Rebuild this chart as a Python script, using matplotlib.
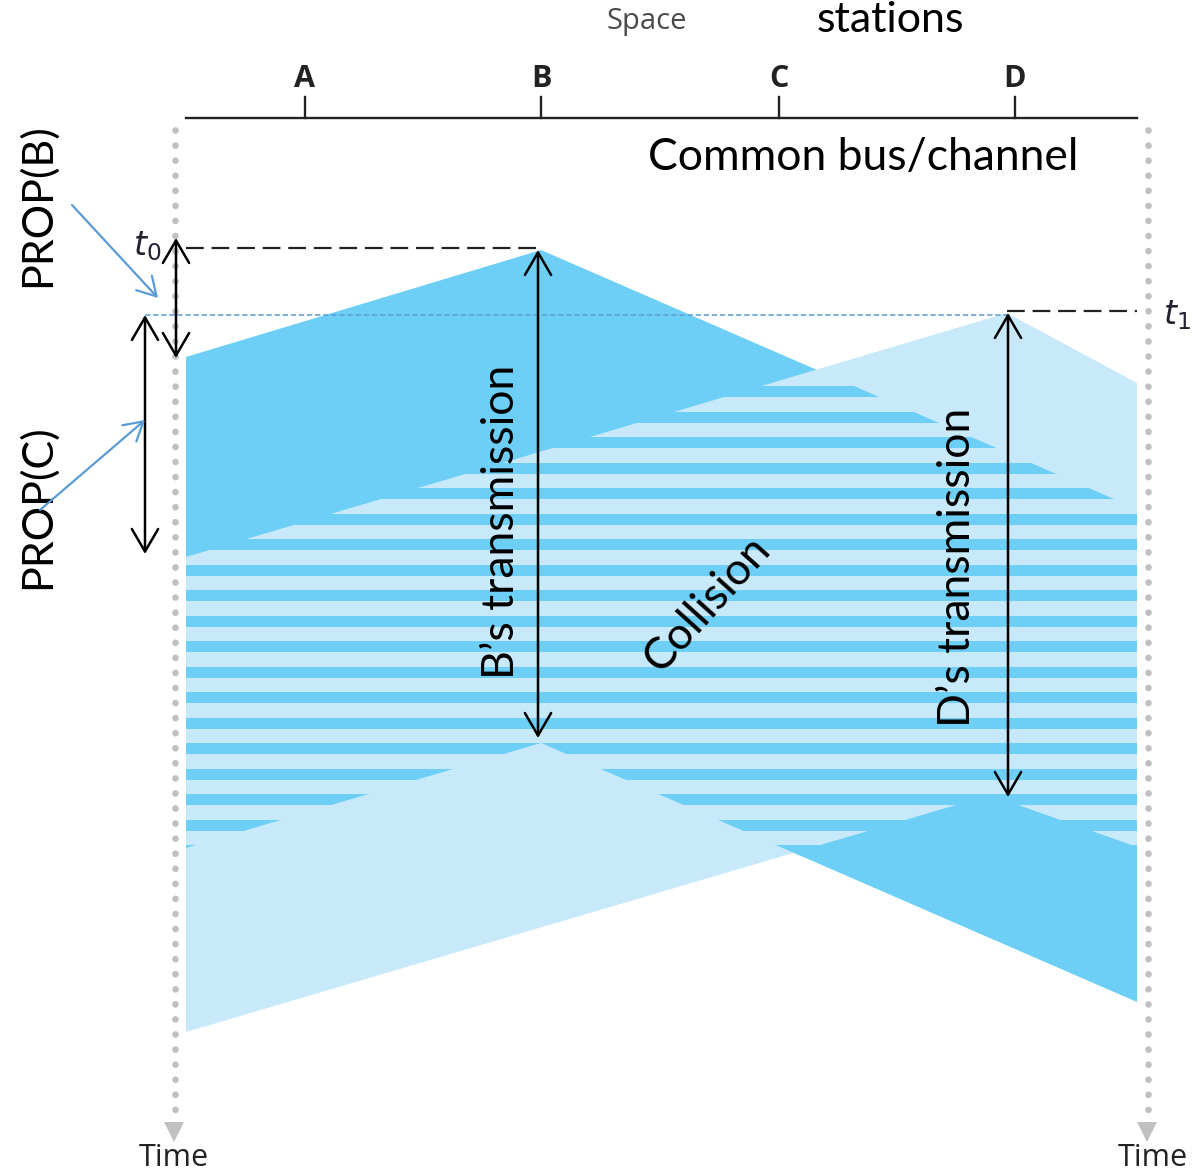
import numpy as np
import matplotlib
matplotlib.use("Agg")
import matplotlib.pyplot as plt
from matplotlib.patches import Polygon, FancyArrowPatch

# stations on the common bus (pixel-space positions)
stations = ["A", "B", "C", "D"]
station_x = [305, 541, 779, 1015]
bus_left, bus_right, bus_y = 186, 1137, 118

# B's transmission: start/end time at B and arrival times at both bus ends
b_x = 541
b_start, b_end = 250, 743
b_reach_left = [357, 848]
b_reach_right = [509, 1002]

# D's transmission
d_x = [1007, 990]
d_start, d_end = 313, 795
d_reach_left = [557, 1032]
d_reach_right = [383, 847]

dark = "#6DCFF6"
light = "#C7E9F9"
blue = "#5B9BD5"
grey = "#C0C0C0"
font = "Lato"

fig = plt.figure(figsize=(11.92, 11.75), dpi=100)
ax = fig.add_axes([0, 0, 1, 1])
ax.set_xlim(0, 1192)
ax.set_ylim(1175, 0)
ax.axis("off")

# signal regions
b_poly = Polygon([(bus_left, b_reach_left[0]), (b_x, b_start), (bus_right, b_reach_right[0]),
                  (bus_right, b_reach_right[1]), (b_x, b_end), (bus_left, b_reach_left[1])],
                 closed=True, facecolor=dark, edgecolor="none", zorder=1)
d_poly = Polygon([(bus_left, d_reach_left[0]), (d_x[0], d_start), (bus_right, d_reach_right[0]),
                  (bus_right, d_reach_right[1]), (d_x[1], d_end), (bus_left, d_reach_left[1])],
                 closed=True, facecolor=light, edgecolor="none", zorder=2)
ax.add_patch(b_poly)
ax.add_patch(d_poly)

# collision stripes: dark bands clipped to B's region, drawn over D's
stripe_y = np.arange(386, 860, 25.5)
bars = ax.barh(stripe_y, bus_right - bus_left, left=bus_left, height=11, align="edge",
               color=dark, edgecolor="none", zorder=3)
for bar in bars:
    bar.set_clip_path(b_poly)

# bus line and station ticks
ax.plot([bus_left, bus_right], [bus_y, bus_y], color="#222222", lw=1.7, zorder=5)
for name, x in zip(stations, station_x):
    ax.plot([x, x], [bus_y - 21, bus_y], color="#222222", lw=1.7, zorder=5)
    ax.text(x, 79, name, ha="center", va="center", fontsize=22, fontweight="bold",
            family="Open Sans", color="#222222")

ax.text(647, 22, "Space", ha="center", va="center", fontsize=21, family="Open Sans", color="#4a4a4a")
ax.text(890, 20, "stations", ha="center", va="center", fontsize=31, family=font, color="black")
ax.text(863, 157, "Common bus/channel", ha="center", va="center", fontsize=32, family=font, color="black")

# dotted time axes
for x, tx in [(175, 174), (1148, 1153)]:
    ax.plot([x, x], [130, 1112], color=grey, lw=4.8, linestyle=(0, (0.01, 2.25)),
            dash_capstyle="round", zorder=0)
    ax.plot([x - 1], [1132], marker="v", markersize=15, color=grey, markeredgewidth=0)
    ax.text(tx, 1158, "Time", ha="center", va="center", fontsize=22, family="Open Sans", color="#222222")

# time markers
ax.plot([bus_left, b_x], [b_start - 2, b_start - 2], color="#222222", lw=1.6, dashes=(8, 3.5), zorder=5)
ax.plot([d_x[0], bus_right], [d_start - 2, d_start - 2], color="#222222", lw=1.6, dashes=(8, 3.5), zorder=5)
ax.plot([145, d_x[0]], [d_start + 2, d_start + 2], color=blue, lw=1.1, dashes=(3.5, 1.8), zorder=5)
ax.text(147, 246, "$t_0$", ha="center", va="center", fontsize=24, color="#222233")
ax.text(1177, 315, "$t_1$", ha="center", va="center", fontsize=24, color="#222233")


def double_arrow(x, y0, y1):
    ax.add_patch(FancyArrowPatch((x, y0), (x, y1), arrowstyle="<->,head_length=0.6,head_width=0.35",
                                 mutation_scale=27, color="black", lw=1.8, zorder=6,
                                 shrinkA=0, shrinkB=0))


double_arrow(176, 238, 358)
double_arrow(145, d_start + 2, 554)
double_arrow(538, b_start, 738)
double_arrow(1008, d_start, 797)

# blue pointers to the propagation arrows
for start, end in [((72, 205), (158, 298)), ((40, 510), (145, 420))]:
    ax.add_patch(FancyArrowPatch(start, end, arrowstyle="->,head_length=0.6,head_width=0.35",
                                 mutation_scale=22, color=blue, lw=1.6, zorder=6,
                                 shrinkA=0, shrinkB=0))

ax.text(37, 205, "PROP(B)", rotation=90, ha="center", va="center", fontsize=31, family=font)
ax.text(37, 507, "PROP(C)", rotation=90, ha="center", va="center", fontsize=31, family=font)
ax.text(502, 522, "B\u2019s transmission", rotation=90, ha="center", va="center",
        fontsize=32, family=font, zorder=7)
ax.text(957, 567, "D\u2019s transmission", rotation=90, ha="center", va="center",
        fontsize=32, family=font, zorder=7)
ax.text(707, 604, "Collision", rotation=48, ha="center", va="center", fontsize=32,
        family=font, zorder=7, rotation_mode="anchor")

fig.savefig("out.png", dpi=100)
